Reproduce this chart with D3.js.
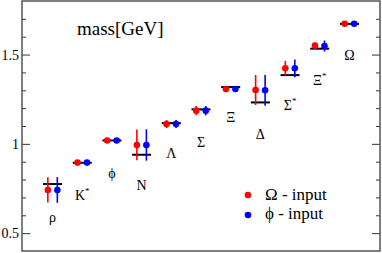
<!DOCTYPE html>
<html>
<head>
<meta charset="utf-8">
<script src="https://cdn.jsdelivr.net/npm/d3@7"></script>
<style>
  body { margin: 0; background: #fff; }
  text { font-family: "Liberation Serif", "Times New Roman", "DejaVu Serif", serif; }
</style>
</head>
<body>
<script>
// hadron names, star = superscript *
const names = ["ρ", "K", "ϕ", "N", "Λ", "Σ", "Ξ", "Δ", "Σ", "Ξ", "Ω"];
const starred = [false, true, false, false, false, false, false, false, true, true, false];
const keys = names.map((n, i) => n + (starred[i] ? "*" : "") + i);

// experiment (black bars)
const expMass = [0.775, 0.894, 1.019, 0.939, 1.116, 1.193, 1.318, 1.232, 1.385, 1.533, 1.672];
// Omega - input (red)
const omegaMass = [0.742, 0.895, 1.019, 0.994, 1.111, 1.186, 1.307, 1.302, 1.423, 1.550, 1.673];
const omegaErr  = [0.071, 0.006, 0.005, 0.086, 0.022, 0.026, 0.010, 0.084, 0.041, 0.016, 0.004];
// phi - input (blue)
const phiMass = [0.742, 0.895, 1.019, 0.994, 1.111, 1.186, 1.307, 1.300, 1.423, 1.548, 1.673];
const phiErr  = [0.072, 0.006, 0.004, 0.088, 0.022, 0.026, 0.010, 0.086, 0.050, 0.031, 0.004];
// where the name labels sit (in GeV)
const labelMass = [0.563, 0.686, 0.809, 0.742, 0.921, 0.983, 1.123, 1.027, 1.190, 1.330, 1.470];

const yTicks = [0.5, 1, 1.5];

const w = 382, h = 253;
const frame = { left: 22, right: 380, top: 1, bottom: 251 };

const svg = d3.select("body").append("svg")
    .attr("width", w)
    .attr("height", h);

const x = d3.scalePoint()
    .domain(keys)
    .range([frame.left, frame.right])
    .padding(1.03);

const y = d3.scaleLinear()
    .domain([0.4, 1.8])
    .range([frame.bottom, frame.top]);

const off = x.step() * 0.16;

// minor ticks on both sides
const minor = d3.range(0.5, 1.8, 0.1).filter(v => yTicks.every(t => Math.abs(t - v) > 1e-6));
svg.append("g")
    .attr("transform", "translate(" + frame.left + ",0)")
    .call(d3.axisRight(y).tickValues(minor).tickSize(4).tickFormat(""))
    .call(g => g.select(".domain").remove());
svg.append("g")
    .attr("transform", "translate(" + frame.right + ",0)")
    .call(d3.axisLeft(y).tickValues(minor).tickSize(4).tickFormat(""))
    .call(g => g.select(".domain").remove());
svg.append("g")
    .attr("transform", "translate(" + frame.left + ",0)")
    .call(d3.axisRight(y).tickValues(yTicks).tickSize(8).tickFormat(""))
    .call(g => g.select(".domain").remove());
svg.append("g")
    .attr("transform", "translate(" + frame.right + ",0)")
    .call(d3.axisLeft(y).tickValues(yTicks).tickSize(8).tickFormat(""))
    .call(g => g.select(".domain").remove());
svg.selectAll(".tick line").attr("stroke", "#333");

// tick labels
svg.selectAll(".ylab")
    .data(yTicks)
    .enter()
    .append("text")
    .attr("x", frame.left - 3)
    .attr("y", d => y(d) + 5)
    .attr("text-anchor", "end")
    .style("font-size", "14px")
    .text(d => d);

// frame
svg.append("rect")
    .attr("x", frame.left)
    .attr("y", frame.top)
    .attr("width", frame.right - frame.left)
    .attr("height", frame.bottom - frame.top)
    .attr("fill", "none")
    .attr("stroke", "#555")
    .attr("stroke-width", 1.5);

// experiment bars
svg.selectAll(".exp")
    .data(keys)
    .enter()
    .append("line")
    .attr("x1", d => x(d) - 9.5)
    .attr("x2", d => x(d) + 9.5)
    .attr("y1", (d, i) => y(expMass[i]))
    .attr("y2", (d, i) => y(expMass[i]))
    .attr("stroke", "black")
    .attr("stroke-width", 2);

function series(vals, errs, color, dx) {
    const g = svg.append("g");
    g.selectAll("line")
        .data(keys)
        .enter()
        .append("line")
        .attr("x1", d => x(d) + dx)
        .attr("x2", d => x(d) + dx)
        .attr("y1", (d, i) => y(vals[i] - errs[i]))
        .attr("y2", (d, i) => y(vals[i] + errs[i]))
        .attr("stroke", color)
        .attr("stroke-width", 1.6);
    g.selectAll("circle")
        .data(keys)
        .enter()
        .append("circle")
        .attr("cx", d => x(d) + dx)
        .attr("cy", (d, i) => y(vals[i]))
        .attr("r", 3.3)
        .attr("fill", color);
}
series(omegaMass, omegaErr, "#ff0000", -off);
series(phiMass, phiErr, "#0000ff", off);

// hadron labels
const lab = svg.selectAll(".name")
    .data(keys)
    .enter()
    .append("text")
    .attr("x", d => x(d))
    .attr("y", (d, i) => y(labelMass[i]))
    .attr("text-anchor", "middle")
    .style("font-size", "14px")
    .text((d, i) => names[i]);
lab.filter((d, i) => starred[i])
    .append("tspan")
    .attr("dy", -6)
    .style("font-size", "9px")
    .text("*");

// title
svg.append("text")
    .attr("x", 77)
    .attr("y", 35)
    .style("font-size", "19px")
    .text("mass[GeV]");

// legend
const legend = [["Ω - input", "#ff0000"], ["ϕ - input", "#0000ff"]];
legend.forEach((l, i) => {
    svg.append("circle")
        .attr("cx", 248)
        .attr("cy", 195 + i * 20)
        .attr("r", 3.3)
        .attr("fill", l[1]);
    svg.append("text")
        .attr("x", 265)
        .attr("y", 200 + i * 19)
        .style("font-size", "17px")
        .text(l[0]);
});
</script>
</body>
</html>
